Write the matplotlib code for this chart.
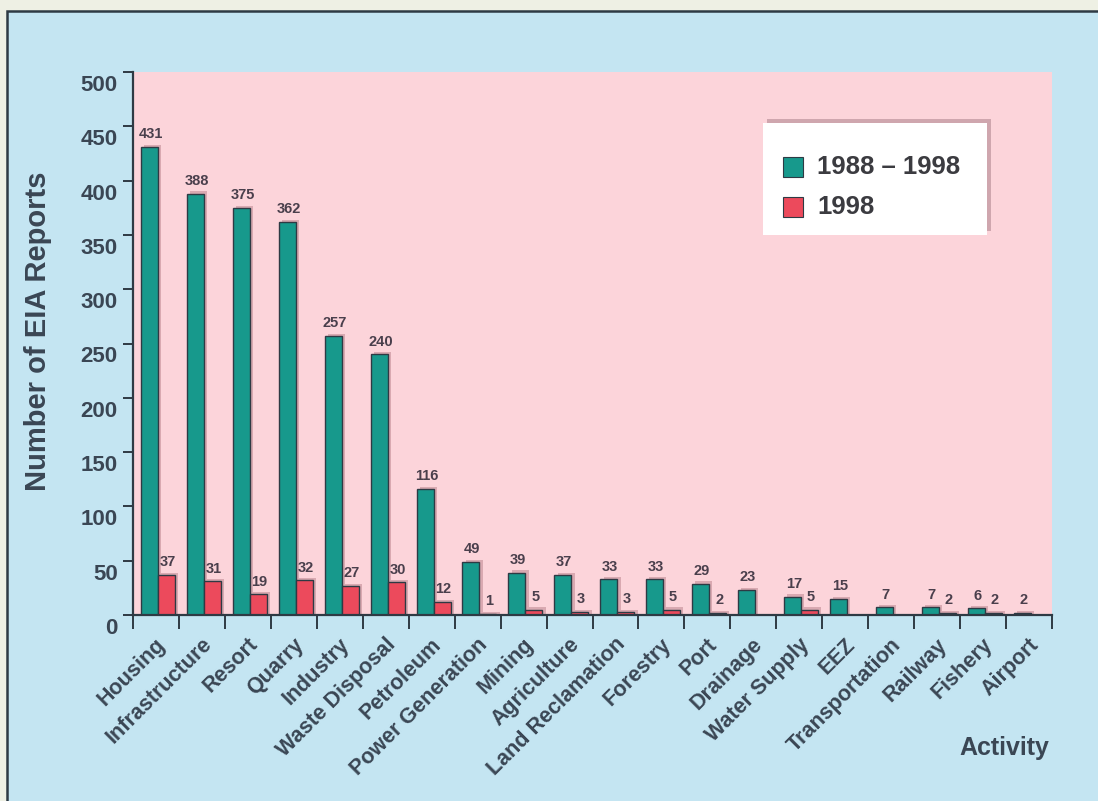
import numpy as np
import matplotlib
matplotlib.use("Agg")
import matplotlib.pyplot as plt
import matplotlib.transforms as mtransforms
from matplotlib.patches import Rectangle

# datos
actividades = ["Housing", "Infrastructure", "Resort", "Quarry", "Industry",
               "Waste Disposal", "Petroleum", "Power Generation", "Mining",
               "Agriculture", "Land Reclamation", "Forestry", "Port", "Drainage",
               "Water Supply", "EEZ", "Transportation", "Railway", "Fishery",
               "Airport"]
total_1988_1998 = [431, 388, 375, 362, 257, 240, 116, 49, 39, 37, 33, 33, 29,
                   23, 17, 15, 7, 7, 6, 2]
solo_1998 = [37, 31, 19, 32, 27, 30, 12, 1, 5, 3, 3, 5, 2, None, 5, None,
             None, 2, 2, None]
marcas_y = list(range(0, 501, 50))
series = ["1988 \u2013 1998", "1998"]

azul = "#c4e5f2"
rosa = "#fcd4da"
verde = "#17998c"
rojo = "#ec4a5c"
sombra = "#d9a9b1"
oscuro = "#2e3a44"
texto = "#3a4654"
numeros = "#4a3f4c"

plt.rcParams["font.family"] = ["Liberation Sans", "DejaVu Sans"]
plt.rcParams["font.weight"] = "bold"

W, H = 1098, 801
fig = plt.figure(figsize=(W / 100, H / 100), dpi=100)
fig.patch.set_facecolor("#eef0e4")

# panel azul con borde
fig.add_artist(Rectangle((7 / W, -0.05), 1.05, 1 - 11 / H + 0.05,
                         transform=fig.transFigure, facecolor=azul,
                         edgecolor=oscuro, linewidth=1.8, zorder=-10))

ax = fig.add_axes([133 / W, 1 - 615 / H, (1052 - 133) / W, (615 - 72) / H])
ax.set_facecolor(rosa)
ax.set_xlim(0, len(actividades))
ax.set_ylim(0, 500)

x = np.arange(len(actividades))
ancho = 0.37
x_verde = x + 0.17 + ancho / 2
x_rojo = x + 0.54 + ancho / 2
dx_sombra = 0.07
dy_sombra = 2.0


def dibujar_serie(posiciones, valores, color):
    for xc, v in zip(posiciones, valores):
        if v is None:
            continue
        ax.bar(xc + dx_sombra, v + dy_sombra, width=ancho, color=sombra,
               zorder=1, linewidth=0)
        ax.bar(xc, v, width=ancho, color=color, edgecolor=oscuro,
               linewidth=1.0, zorder=2)
        ax.annotate(str(v), (xc, v), xytext=(1, 4), textcoords="offset points",
                    ha="center", va="bottom", fontsize=10.5, fontweight="bold",
                    color=numeros, zorder=3)


dibujar_serie(x_verde, total_1988_1998, verde)
dibujar_serie(x_rojo, solo_1998, rojo)

for lado in ["top", "right"]:
    ax.spines[lado].set_visible(False)
for lado in ["left", "bottom"]:
    ax.spines[lado].set_color(oscuro)
    ax.spines[lado].set_linewidth(1.6)

ax.set_xticks(np.arange(0, len(actividades) + 1))
ax.set_xticklabels([])
ax.tick_params(axis="x", length=10, width=1.4, color=oscuro, direction="out")
ax.set_yticks(marcas_y)
ax.set_yticklabels([str(m) for m in marcas_y], fontsize=16, fontweight="bold",
                   color=texto)
ax.tick_params(axis="y", length=7, width=1.4, color=oscuro, direction="out",
               pad=4)
bajar = mtransforms.ScaledTranslation(0, -11 / 100, fig.dpi_scale_trans)
for etiqueta in ax.get_yticklabels():
    etiqueta.set_transform(etiqueta.get_transform() + bajar)

# etiquetas de actividad giradas
mezcla = mtransforms.blended_transform_factory(ax.transData, ax.transAxes)
for i, nombre in enumerate(actividades):
    ax.text(i + 0.5 - 0.02, -0.035, nombre, transform=mezcla, rotation=45,
            rotation_mode="anchor", ha="right", va="top", fontsize=15.5,
            fontweight="bold", color=texto)

fig.text(38 / W, 1 - 331 / H, "Number of EIA Reports", rotation=90,
         ha="center", va="center", fontsize=21, fontweight="bold", color=texto)
fig.text(1004 / W, 1 - 748 / H, "Activity", ha="center", va="center",
         fontsize=18, fontweight="bold", color=texto)

# leyenda dibujada a mano
caja = (763, 123, 987, 235)
fig.add_artist(Rectangle(((caja[0] + 4) / W, 1 - (caja[3] - 4) / H),
                         (caja[2] - caja[0]) / W, (caja[3] - caja[1]) / H,
                         transform=fig.transFigure, facecolor="#cfa6ae",
                         linewidth=0, zorder=4))
fig.add_artist(Rectangle((caja[0] / W, 1 - caja[3] / H),
                         (caja[2] - caja[0]) / W, (caja[3] - caja[1]) / H,
                         transform=fig.transFigure, facecolor="white",
                         linewidth=0, zorder=5))
for nombre, color, yc in zip(series, [verde, rojo], [167, 207]):
    fig.add_artist(Rectangle((783 / W, 1 - (yc + 10) / H), 20 / W, 20 / H,
                             transform=fig.transFigure, facecolor=color,
                             edgecolor=oscuro, linewidth=0.8, zorder=6))
    fig.text(817 / W, 1 - yc / H, nombre, ha="left", va="center",
             fontsize=18.5, fontweight="bold", color="#3b3b40", zorder=6)

fig.savefig("out.png", dpi=100, facecolor=fig.get_facecolor())
